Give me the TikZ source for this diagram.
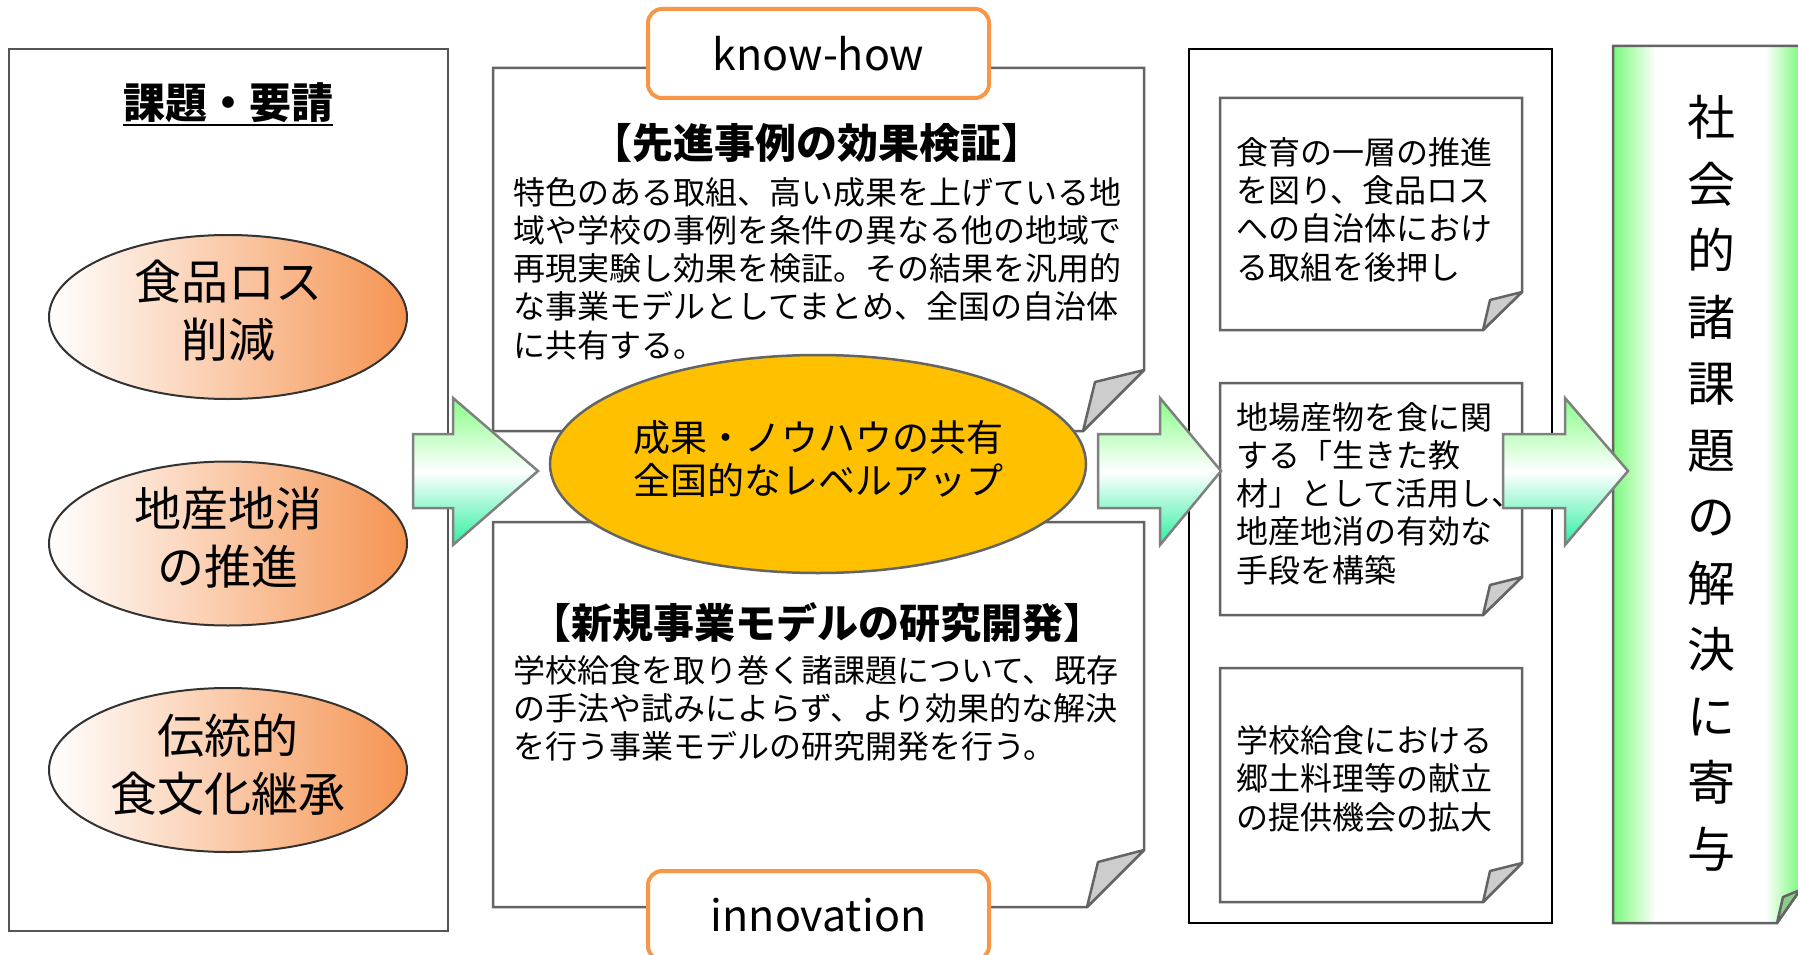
\documentclass[tikz,border=0pt]{standalone}
\usepackage{fontspec}
\setmainfont{Noto Sans CJK JP}
\usetikzlibrary{shapes.geometric}
\definecolor{docgray}{RGB}{100,100,100}
\definecolor{foldgray}{RGB}{205,205,205}
\definecolor{leftgray}{RGB}{85,85,85}
\definecolor{tagorange}{RGB}{247,150,70}
\definecolor{amber}{RGB}{255,192,0}
\definecolor{ellorange}{RGB}{245,148,82}
\definecolor{arrtop}{RGB}{135,255,135}
\definecolor{arrbot}{RGB}{45,240,160}
\definecolor{arrgray}{RGB}{128,128,128}
\definecolor{gbar}{RGB}{120,250,120}
\definecolor{gfold}{RGB}{140,205,140}
\newcommand\fsz[2]{\fontsize{#1}{#2}\selectfont}
\begin{document}
\begin{tikzpicture}[x=1pt,y=-1pt,
  leftbox/.style={draw=leftgray,line width=2},
  docbox/.style={draw=docgray,fill=white,line width=2.5,line join=miter},
  foldtri/.style={draw=docgray,fill=foldgray,line width=2.5,line join=round},
  lellipse/.style={ellipse,draw=black!80,line width=2,left color=white,right color=ellorange,minimum width=358,minimum height=164,inner sep=0},
  ltext/.style={font=\fsz{47}{58},align=center,inner sep=0},
  bodytext/.style={font=\fsz{32}{38.3},align=left,anchor=west,inner sep=0},
  heading/.style={font=\fsz{41}{48}\bfseries,inner sep=0},
  tagbox/.style={draw=tagorange,line width=4,fill=white,rounded corners=14,minimum width=341,minimum height=89,font=\fsz{43}{50},inner sep=0},
  blockarrow/.style={draw=arrgray,line width=2.5,top color=arrtop,bottom color=arrbot,middle color=white,line join=miter}
]
\useasboundingbox (0,0) rectangle (1798,955);
\fill[white] (0,0) rectangle (1798,955);

% ---- left column ----
\draw[leftbox] (9,49) rectangle (448,931);
\node[font=\fsz{42}{50}\bfseries,inner sep=0] (kadai) at (228,103) {課題・要請};
\draw[line width=2.2] ([yshift=-2pt]kadai.south west) -- ([yshift=-2pt]kadai.south east);
\node[lellipse] (e1) at (228,317) {};
\node[lellipse] (e2) at (228,543.5) {};
\node[lellipse] (e3) at (228,770) {};
\node[ltext] (t1) at (228,311) {食品ロス\\削減};
\node[ltext] (t2) at (228,537.5) {地産地消\\の推進};
\node[ltext] (t3) at (228,765) {伝統的\\食文化継承};

% ---- middle column ----
\draw[docbox] (493,68) -- (1144,68) -- (1144,370) -- (1083,431) -- (493,431) -- cycle;
\draw[foldtri] (1144,370) -- (1095,382) -- (1083,431) -- cycle;
\draw[docbox] (493,522) -- (1144,522) -- (1144,850) -- (1087,907) -- (493,907) -- cycle;
\draw[foldtri] (1144,850) -- (1098,862) -- (1087,907) -- cycle;

\node[heading] (h1) at (817,143) {【先進事例の効果検証】};
\node[bodytext] (b1) at (513,268.5) {特色のある取組、高い成果を上げている地\\域や学校の事例を条件の異なる他の地域で\\再現実験し効果を検証。その結果を汎用的\\な事業モデルとしてまとめ、全国の自治体\\に共有する。};
\node[heading] (h2) at (817,623) {【新規事業モデルの研究開発】};
\node[bodytext] (b2) at (513,708.5) {学校給食を取り巻く諸課題について、既存\\の手法や試みによらず、より効果的な解決\\を行う事業モデルの研究開発を行う。};

\node[tagbox] (kh) at (818.5,53.5) {know-how};
\node[tagbox] (inn) at (818.5,915.5) {innovation};

\node[ellipse,draw=docgray,line width=2.5,fill=amber,minimum width=536,minimum height=218,inner sep=0] (ce) at (818,464) {};
\node[font=\fsz{37}{43},align=center,inner sep=0] (cet) at (818,458.5) {成果・ノウハウの共有\\全国的なレベルアップ};

% ---- right column ----
\draw[draw=black,line width=2.5] (1189,49) rectangle (1552,923);
\draw[docbox] (1220,98) -- (1522,98) -- (1522,292) -- (1483,330) -- (1220,330) -- cycle;
\draw[foldtri] (1522,292) -- (1490,300) -- (1483,330) -- cycle;
\draw[docbox] (1220,383) -- (1522,383) -- (1522,577) -- (1483,615) -- (1220,615) -- cycle;
\draw[foldtri] (1522,577) -- (1490,585) -- (1483,615) -- cycle;
\draw[docbox] (1220,668) -- (1522,668) -- (1522,863) -- (1483,902) -- (1220,902) -- cycle;
\draw[foldtri] (1522,863) -- (1490,871) -- (1483,902) -- cycle;

% ---- green result box ----
\begin{scope}
\clip (1613,46) -- (1800,46) -- (1800,890) -- (1777,923) -- (1613,923) -- cycle;
\fill[left color=gbar,right color=white] (1612,40) rectangle (1656,930);
\fill[white] (1655,40) rectangle (1766,930);
\fill[left color=white,right color=gbar] (1765,40) rectangle (1801,930);
\end{scope}
\draw[draw=docgray,line width=2.5] (1613,46) -- (1800,46) -- (1800,890) -- (1777,923) -- (1613,923) -- cycle;
\draw[draw=docgray,fill=gfold,line width=2.5,line join=round] (1800,890) -- (1783,897) -- (1777,923) -- cycle;
\node[font=\fsz{48}{66.5},align=center,inner sep=0] (res) at (1711,483.5) {社\\会\\的\\諸\\課\\題\\の\\解\\決\\に\\寄\\与};

% ---- block arrows ----
\draw[blockarrow] (413,434) -- (453,434) -- (453,398) -- (538,471) -- (453,545) -- (453,508) -- (413,508) -- cycle;
\draw[blockarrow] (1098,434) -- (1160,434) -- (1160,398) -- (1221,471) -- (1160,545) -- (1160,508) -- (1098,508) -- cycle;
\draw[blockarrow] (1503,434) -- (1565,434) -- (1565,398) -- (1628,471) -- (1565,545) -- (1565,508) -- (1503,508) -- cycle;

% ---- right column texts ----
\node[bodytext] (ra) at (1236,209.5) {食育の一層の推進\\を図り、食品ロス\\への自治体におけ\\る取組を後押し};
\node[bodytext] (rb) at (1236,493.5) {地場産物を食に関\\する「生きた教\\材」として活用し、\\地産地消の有効な\\手段を構築};
\node[bodytext] (rc) at (1236,778.5) {学校給食における\\郷土料理等の献立\\の提供機会の拡大};
\end{tikzpicture}
\end{document}
